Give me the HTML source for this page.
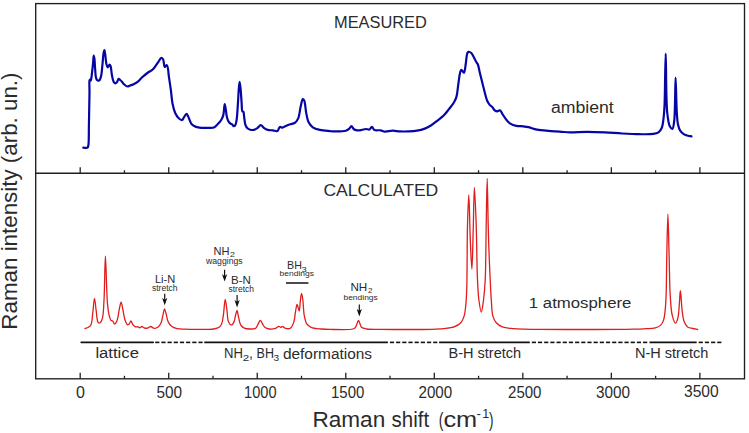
<!DOCTYPE html>
<html><head><meta charset="utf-8"><style>
html,body{margin:0;padding:0;background:#fff;}
svg{display:block;}
text{font-family:'Liberation Sans',sans-serif;fill:#2b2b2b;}
</style></head><body>
<svg width="749" height="433" viewBox="0 0 749 433">
<rect x="0" y="0" width="749" height="433" fill="#fff"/>
<!-- frame -->
<g stroke="#1e1e1e" fill="none" stroke-width="1.35">
<rect x="35.7" y="3.6" width="708.8" height="375.2"/>
<line x1="35.7" y1="173.2" x2="744.5" y2="173.2"/>
</g>
<g stroke="#222" stroke-width="1.3">
<line x1="80.20" y1="378.8" x2="80.20" y2="372.80"/>
<line x1="80.20" y1="173.2" x2="80.20" y2="167.20"/>
<line x1="124.46" y1="378.8" x2="124.46" y2="375.80"/>
<line x1="124.46" y1="173.2" x2="124.46" y2="170.20"/>
<line x1="168.73" y1="378.8" x2="168.73" y2="372.80"/>
<line x1="168.73" y1="173.2" x2="168.73" y2="167.20"/>
<line x1="212.99" y1="378.8" x2="212.99" y2="375.80"/>
<line x1="212.99" y1="173.2" x2="212.99" y2="170.20"/>
<line x1="257.25" y1="378.8" x2="257.25" y2="372.80"/>
<line x1="257.25" y1="173.2" x2="257.25" y2="167.20"/>
<line x1="301.51" y1="378.8" x2="301.51" y2="375.80"/>
<line x1="301.51" y1="173.2" x2="301.51" y2="170.20"/>
<line x1="345.78" y1="378.8" x2="345.78" y2="372.80"/>
<line x1="345.78" y1="173.2" x2="345.78" y2="167.20"/>
<line x1="390.04" y1="378.8" x2="390.04" y2="375.80"/>
<line x1="390.04" y1="173.2" x2="390.04" y2="170.20"/>
<line x1="434.30" y1="378.8" x2="434.30" y2="372.80"/>
<line x1="434.30" y1="173.2" x2="434.30" y2="167.20"/>
<line x1="478.56" y1="378.8" x2="478.56" y2="375.80"/>
<line x1="478.56" y1="173.2" x2="478.56" y2="170.20"/>
<line x1="522.83" y1="378.8" x2="522.83" y2="372.80"/>
<line x1="522.83" y1="173.2" x2="522.83" y2="167.20"/>
<line x1="567.09" y1="378.8" x2="567.09" y2="375.80"/>
<line x1="567.09" y1="173.2" x2="567.09" y2="170.20"/>
<line x1="611.35" y1="378.8" x2="611.35" y2="372.80"/>
<line x1="611.35" y1="173.2" x2="611.35" y2="167.20"/>
<line x1="655.61" y1="378.8" x2="655.61" y2="375.80"/>
<line x1="655.61" y1="173.2" x2="655.61" y2="170.20"/>
<line x1="699.88" y1="378.8" x2="699.88" y2="372.80"/>
<line x1="699.88" y1="173.2" x2="699.88" y2="167.20"/>
</g>
<!-- spectra -->
<path d="M83.30,147.70 C84.70,147.70 86.67,148.29 87.50,147.70 C88.17,147.22 88.17,146.39 88.40,145.10 C89.02,141.69 88.75,132.63 88.90,126.00 C89.06,118.81 89.19,109.75 89.30,103.50 C89.38,99.03 89.47,95.83 89.50,92.00 C89.53,88.19 89.11,82.38 89.50,80.60 C89.63,80.02 89.82,79.51 90.00,79.50 C90.18,79.49 90.41,80.61 90.60,80.60 C90.82,80.58 91.02,79.72 91.20,79.00 C91.54,77.62 91.72,75.11 92.00,72.80 C92.35,69.86 92.80,65.87 93.10,62.80 C93.35,60.18 93.40,55.52 93.70,55.50 C93.89,55.49 94.20,57.13 94.40,58.40 C94.76,60.72 94.84,65.17 95.10,68.40 C95.34,71.43 95.40,75.11 95.90,77.20 C96.19,78.42 96.44,79.45 97.00,80.00 C97.42,80.42 98.12,80.63 98.60,80.60 C99.01,80.57 99.37,80.38 99.70,80.00 C100.30,79.30 100.70,77.79 101.10,76.10 C101.78,73.21 102.08,67.95 102.50,64.00 C102.91,60.22 103.12,55.33 103.60,52.90 C103.84,51.68 104.15,50.19 104.40,50.20 C104.73,50.22 105.01,53.22 105.30,55.10 C105.69,57.62 105.84,61.78 106.40,64.00 C106.76,65.40 107.24,67.23 107.70,67.30 C107.99,67.35 108.32,66.62 108.60,66.20 C108.93,65.71 109.17,64.51 109.50,64.50 C109.84,64.49 110.28,65.36 110.60,66.20 C111.26,67.95 111.36,72.28 111.90,75.00 C112.38,77.40 112.80,80.29 113.60,81.70 C114.06,82.50 114.63,83.24 115.20,83.30 C115.74,83.36 116.40,82.76 116.90,82.20 C117.58,81.45 117.93,79.07 118.60,78.90 C119.08,78.78 119.67,79.57 120.20,80.00 C120.80,80.49 121.41,81.05 122.00,81.70 C122.68,82.45 123.16,83.53 124.00,84.30 C124.95,85.16 126.41,86.40 127.50,86.50 C128.38,86.58 129.09,85.83 130.00,85.50 C131.09,85.10 132.38,84.86 133.60,84.30 C135.01,83.65 136.53,82.78 137.90,81.70 C139.41,80.50 140.66,78.72 142.20,77.30 C143.81,75.81 145.62,74.32 147.40,73.00 C149.12,71.72 151.22,70.86 152.70,69.50 C154.08,68.23 155.03,66.64 156.10,65.20 C157.13,63.81 158.13,62.29 159.00,61.00 C159.73,59.92 160.24,58.19 161.00,58.00 C161.61,57.85 162.45,58.38 163.00,59.10 C164.02,60.45 163.82,66.56 164.80,66.90 C165.37,67.10 166.31,64.98 166.90,65.20 C168.19,65.69 168.42,73.94 169.10,78.20 C169.75,82.30 170.33,86.14 170.90,90.30 C171.50,94.72 171.77,99.94 172.60,104.00 C173.29,107.34 174.03,110.48 175.20,113.00 C176.16,115.06 177.36,117.01 178.70,118.20 C179.76,119.14 181.31,120.23 182.20,120.00 C182.99,119.79 183.26,118.32 183.90,117.40 C184.66,116.31 185.74,113.88 186.50,113.90 C187.14,113.92 187.58,115.37 188.20,116.50 C189.23,118.37 190.14,122.53 191.70,124.30 C192.90,125.66 194.43,126.32 196.00,126.90 C197.62,127.50 199.50,127.65 201.30,127.80 C203.13,127.95 204.93,127.83 206.90,127.80 C209.10,127.77 212.01,128.35 213.90,127.60 C215.53,126.95 216.59,125.36 217.80,124.10 C219.02,122.83 220.28,121.50 221.20,120.00 C222.12,118.50 222.75,117.10 223.30,115.10 C224.08,112.23 224.20,104.22 224.70,104.20 C225.05,104.19 225.47,107.68 225.80,109.60 C226.18,111.75 226.35,114.50 226.80,116.50 C227.16,118.09 227.48,119.50 228.10,120.70 C228.65,121.76 229.42,122.75 230.20,123.40 C230.85,123.94 231.71,124.02 232.30,124.50 C232.87,124.96 233.19,126.09 233.70,126.20 C234.13,126.29 234.71,125.97 235.10,125.50 C235.80,124.66 236.11,122.78 236.50,120.70 C237.18,117.06 237.42,110.61 237.80,105.40 C238.19,99.98 238.42,93.15 238.80,88.80 C239.05,85.97 239.30,81.80 239.60,81.80 C239.90,81.80 240.31,86.06 240.60,88.80 C241.01,92.64 241.26,98.62 241.60,102.70 C241.86,105.91 241.63,110.27 242.40,111.30 C242.67,111.66 243.14,111.37 243.40,111.70 C243.96,112.40 243.83,114.68 244.10,116.50 C244.46,118.89 244.63,122.68 245.40,124.80 C245.94,126.28 246.61,127.47 247.50,128.30 C248.28,129.03 249.28,129.43 250.30,129.70 C251.37,129.99 252.66,130.13 253.80,129.90 C255.00,129.66 256.18,128.94 257.30,128.20 C258.52,127.40 259.65,125.19 260.80,125.20 C261.95,125.21 263.00,127.40 264.20,128.20 C265.31,128.94 266.38,129.53 267.70,129.90 C269.23,130.33 271.24,130.19 272.90,130.40 C274.43,130.60 276.15,131.63 277.30,131.10 C278.51,130.54 278.86,127.31 279.90,126.90 C280.67,126.60 281.59,127.69 282.50,127.60 C283.58,127.49 284.68,126.44 285.90,125.90 C287.26,125.30 288.83,124.69 290.30,124.20 C291.73,123.73 293.35,123.83 294.60,123.00 C296.00,122.07 297.17,120.57 298.10,118.60 C299.48,115.68 299.82,110.04 300.70,106.50 C301.39,103.69 301.95,99.22 302.80,99.00 C303.23,98.89 303.79,99.59 304.20,100.40 C305.26,102.48 305.50,109.52 306.30,113.40 C306.96,116.61 307.27,119.68 308.50,122.10 C309.56,124.20 310.98,126.01 312.80,127.30 C314.71,128.66 317.21,129.28 319.80,129.90 C322.84,130.63 327.44,130.85 330.00,131.10 C331.54,131.25 332.11,131.38 333.70,131.40 C336.57,131.43 343.05,131.55 345.80,130.70 C347.40,130.21 348.34,129.44 349.30,128.60 C350.17,127.84 350.70,125.98 351.40,126.00 C352.14,126.02 352.65,128.28 353.60,129.00 C354.55,129.72 355.85,130.12 357.10,130.30 C358.46,130.50 360.05,130.22 361.50,130.00 C362.95,129.78 364.44,129.06 365.80,129.00 C367.02,128.95 368.29,129.84 369.30,129.50 C370.33,129.16 371.05,126.86 371.90,126.90 C372.79,126.94 373.28,129.39 374.50,130.00 C376.00,130.74 378.76,129.98 380.60,130.30 C382.18,130.57 383.24,131.45 384.90,131.60 C387.10,131.80 390.17,130.72 392.70,130.70 C395.10,130.68 397.24,131.28 399.70,131.40 C402.42,131.54 405.43,131.52 408.30,131.40 C411.19,131.28 414.20,131.19 417.00,130.70 C419.69,130.23 422.40,129.52 424.80,128.60 C427.01,127.75 428.86,126.77 430.90,125.50 C433.19,124.07 435.59,122.04 437.80,120.30 C439.91,118.64 442.07,117.14 443.90,115.30 C445.70,113.50 447.09,111.46 448.70,109.40 C450.42,107.21 452.56,104.79 453.90,102.50 C455.06,100.52 455.82,98.95 456.50,96.60 C457.41,93.45 457.62,88.98 458.20,85.10 C458.79,81.12 459.29,75.69 460.00,73.00 C460.37,71.60 460.68,70.01 461.20,69.90 C461.60,69.82 462.13,70.85 462.60,71.30 C463.06,71.75 463.60,72.73 464.00,72.60 C464.85,72.33 465.17,67.29 465.70,64.30 C466.32,60.83 466.49,54.80 467.40,53.00 C467.75,52.31 468.08,51.90 468.60,51.80 C469.29,51.67 470.50,52.29 471.30,53.00 C472.35,53.93 473.09,55.93 473.90,57.40 C474.69,58.83 475.38,60.46 476.10,61.70 C476.68,62.69 477.29,63.12 477.80,64.30 C478.66,66.30 479.16,69.97 479.90,73.00 C480.71,76.31 481.63,79.93 482.50,83.40 C483.37,86.87 484.24,90.68 485.10,93.80 C485.81,96.37 486.34,98.86 487.20,100.80 C487.87,102.31 488.61,103.56 489.50,104.60 C490.28,105.51 491.28,105.93 492.10,106.80 C493.03,107.79 493.71,109.55 494.70,110.30 C495.49,110.90 496.43,111.30 497.30,111.30 C498.17,111.30 499.12,110.06 499.90,110.30 C500.91,110.61 501.57,112.73 502.50,114.10 C503.58,115.70 504.69,117.71 506.00,119.30 C507.29,120.87 508.61,122.51 510.30,123.60 C512.05,124.73 514.27,125.45 516.40,125.90 C518.60,126.37 521.17,126.07 523.30,126.30 C525.16,126.50 526.78,126.68 528.50,127.10 C530.28,127.54 531.90,128.40 533.80,128.90 C535.93,129.46 538.16,129.85 540.70,130.20 C543.80,130.63 547.63,130.83 551.10,131.10 C554.57,131.37 558.21,131.59 561.50,131.80 C564.48,131.99 566.66,132.25 570.00,132.30 C574.77,132.37 581.61,131.80 587.40,131.80 C593.17,131.80 598.93,132.02 604.70,132.30 C610.49,132.58 616.31,133.18 622.10,133.50 C627.87,133.82 633.95,134.15 639.40,134.20 C644.29,134.25 649.81,134.46 653.30,133.90 C655.48,133.55 657.10,133.29 658.50,132.30 C659.89,131.32 660.87,129.93 661.70,128.00 C662.96,125.07 663.32,119.87 663.80,115.80 C664.28,111.77 664.36,109.11 664.60,103.70 C665.08,92.71 665.29,53.70 665.70,53.70 C666.15,53.70 665.85,99.63 667.20,112.40 C667.86,118.67 668.38,123.61 669.80,126.30 C670.52,127.67 671.72,129.10 672.40,128.90 C673.41,128.61 673.77,124.17 674.20,121.00 C674.83,116.37 674.78,110.06 675.00,103.70 C675.27,95.89 675.33,77.60 675.60,77.60 C675.91,77.60 676.23,103.80 676.80,112.40 C677.14,117.48 677.25,121.19 678.00,124.50 C678.55,126.92 679.15,128.94 680.20,130.60 C681.12,132.05 682.37,133.23 683.70,134.10 C684.98,134.94 686.62,135.43 688.00,135.80 C689.21,136.12 690.33,136.13 691.50,136.30" fill="none" stroke="#0606a4" stroke-width="2.2" stroke-linejoin="round" stroke-linecap="round"/>
<path d="M84.90,328.50 C86.07,328.10 87.38,327.94 88.40,327.30 C89.41,326.67 90.32,326.04 91.00,324.70 C92.23,322.25 92.24,316.81 92.80,312.60 C93.41,308.04 93.91,298.30 94.50,298.30 C95.05,298.30 95.60,306.74 96.20,310.80 C96.77,314.67 96.85,320.49 98.00,322.10 C98.47,322.76 99.15,323.16 99.70,323.00 C100.60,322.75 101.63,320.67 102.30,318.60 C103.57,314.69 103.54,307.80 104.00,300.40 C104.72,288.87 104.83,256.10 105.40,256.10 C105.99,256.10 106.48,293.25 107.50,303.90 C108.02,309.28 108.51,313.00 109.30,316.00 C109.79,317.86 110.21,319.67 111.00,320.40 C111.48,320.84 112.19,320.51 112.70,320.90 C113.41,321.45 113.82,323.87 114.50,323.90 C115.26,323.94 116.39,322.01 117.10,320.40 C118.25,317.79 118.55,312.39 119.30,309.10 C119.89,306.51 120.52,302.20 121.10,302.20 C121.68,302.20 122.23,306.56 122.80,309.10 C123.50,312.21 123.93,316.68 124.90,319.50 C125.62,321.59 126.55,324.37 127.50,324.70 C128.04,324.89 128.69,324.36 129.20,323.90 C129.90,323.27 130.43,320.87 131.00,320.90 C131.60,320.93 131.96,323.40 132.70,324.40 C133.41,325.35 134.36,326.43 135.30,326.80 C136.11,327.12 137.15,326.60 137.90,326.80 C138.55,326.98 138.99,327.79 139.60,327.80 C140.31,327.81 141.16,326.49 141.90,326.50 C142.62,326.51 143.18,327.51 144.00,327.80 C144.97,328.14 146.29,328.39 147.40,328.20 C148.59,328.00 149.84,326.43 150.90,326.50 C151.85,326.56 152.47,328.00 153.50,328.20 C154.73,328.44 156.68,328.09 157.90,327.30 C159.22,326.44 160.18,324.78 161.00,323.00 C162.06,320.69 162.46,316.87 163.10,314.30 C163.61,312.26 163.99,308.81 164.50,308.80 C165.02,308.79 165.62,312.30 166.20,314.30 C166.88,316.67 167.22,319.96 168.30,322.10 C169.20,323.89 170.35,325.42 171.80,326.50 C173.25,327.58 175.04,328.14 177.00,328.60 C179.34,329.15 182.18,329.07 185.00,329.20 C188.15,329.35 191.59,329.38 195.00,329.40 C198.58,329.42 202.64,329.38 206.00,329.30 C208.85,329.23 211.57,329.42 213.90,329.00 C215.84,328.65 217.77,328.26 219.10,327.30 C220.29,326.45 221.03,325.32 221.70,323.80 C222.66,321.63 222.88,318.43 223.40,315.10 C224.09,310.67 224.55,299.52 225.20,299.50 C225.73,299.49 226.35,306.29 226.90,309.90 C227.49,313.80 227.41,319.48 228.60,322.10 C229.29,323.62 230.41,325.21 231.30,325.20 C232.18,325.19 233.22,323.44 233.90,322.10 C234.80,320.31 235.04,317.21 235.60,315.10 C236.07,313.34 236.55,310.29 237.00,310.30 C237.52,310.32 237.92,314.58 238.50,316.90 C239.16,319.52 239.56,323.24 240.80,325.20 C241.71,326.63 242.86,327.56 244.30,328.20 C245.95,328.94 248.36,329.02 250.30,329.00 C252.12,328.98 254.28,329.09 255.60,328.20 C256.89,327.33 257.36,325.18 258.20,323.80 C258.96,322.56 259.68,320.29 260.40,320.30 C261.11,320.31 261.74,322.62 262.50,323.80 C263.30,325.05 263.94,326.73 265.10,327.60 C266.25,328.46 267.87,328.80 269.40,329.00 C271.06,329.21 273.07,329.16 274.70,328.70 C276.26,328.26 277.89,326.40 279.00,326.40 C279.70,326.40 280.10,327.28 280.70,327.30 C281.36,327.33 282.11,326.31 282.80,326.40 C283.58,326.50 284.11,327.86 285.10,328.20 C286.43,328.66 288.90,329.01 290.30,328.20 C291.92,327.26 292.95,324.49 293.80,322.10 C294.84,319.17 294.89,314.84 295.50,311.70 C296.01,309.07 296.47,304.53 297.10,304.50 C297.71,304.47 298.68,311.05 299.20,311.00 C299.82,310.94 299.89,304.36 300.30,301.30 C300.67,298.53 301.05,293.41 301.50,293.40 C301.90,293.39 302.42,296.98 302.80,299.50 C303.40,303.49 303.35,310.69 304.20,315.10 C304.85,318.46 305.39,321.69 306.80,323.80 C307.90,325.45 309.21,326.45 311.10,327.30 C313.70,328.47 318.20,328.65 321.50,329.00 C324.47,329.31 326.48,329.35 330.00,329.40 C335.76,329.48 349.04,330.16 352.80,329.00 C354.19,328.57 354.71,328.11 355.40,327.30 C356.20,326.36 356.56,324.71 357.10,323.50 C357.59,322.39 358.05,320.30 358.50,320.30 C358.91,320.30 359.27,321.99 359.70,323.00 C360.25,324.26 360.42,326.30 361.50,327.30 C362.67,328.38 364.53,328.62 366.70,329.00 C370.08,329.59 375.12,329.31 380.00,329.40 C385.99,329.51 393.33,329.48 400.00,329.50 C406.67,329.52 414.18,329.55 420.00,329.50 C424.51,329.46 428.05,329.45 432.00,329.30 C435.85,329.15 439.67,329.01 443.40,328.60 C447.03,328.20 451.04,328.03 454.10,326.90 C456.70,325.94 459.13,324.63 460.80,322.80 C462.43,321.01 463.28,318.73 464.10,316.10 C465.15,312.75 465.46,308.48 465.90,304.10 C466.43,298.85 466.56,294.28 466.80,286.70 C467.25,272.44 467.04,241.93 467.50,225.00 C467.82,213.15 468.38,194.80 468.80,194.80 C469.32,194.80 469.71,226.58 470.30,240.00 C470.77,250.80 471.44,269.20 471.90,269.20 C472.43,269.19 472.79,243.34 473.20,230.00 C473.63,216.10 473.88,187.41 474.40,187.40 C474.89,187.40 475.71,211.28 476.20,225.00 C476.79,241.59 476.85,266.21 477.50,280.00 C477.89,288.32 478.12,294.19 478.90,300.00 C479.51,304.56 480.53,312.11 481.30,312.10 C482.07,312.09 482.89,304.55 483.50,300.00 C484.27,294.18 484.77,288.33 485.20,280.00 C485.91,266.22 485.85,242.58 486.20,225.00 C486.52,208.80 486.87,178.30 487.20,178.30 C487.53,178.30 487.87,211.99 488.20,225.00 C488.44,234.35 488.60,240.57 488.90,249.10 C489.24,258.76 489.75,270.82 490.20,280.00 C490.56,287.39 490.81,293.70 491.30,300.00 C491.74,305.66 491.69,311.98 492.90,316.10 C493.72,318.91 494.71,320.99 496.30,322.80 C497.86,324.58 499.89,325.94 502.30,326.90 C505.25,328.07 509.32,328.22 513.00,328.60 C516.87,329.00 520.78,329.06 525.00,329.20 C529.72,329.36 533.80,329.39 540.00,329.45 C550.13,329.54 566.67,329.50 580.00,329.50 C593.33,329.50 610.32,329.55 620.00,329.45 C625.52,329.39 628.91,329.32 633.00,329.20 C636.66,329.09 639.81,329.02 643.40,328.80 C647.26,328.57 652.25,328.68 655.40,327.80 C657.63,327.18 659.44,326.39 660.80,325.10 C662.09,323.88 662.81,322.30 663.50,320.40 C664.41,317.89 664.69,314.64 665.10,311.10 C665.64,306.48 665.84,301.57 666.10,295.00 C666.51,284.65 666.50,268.41 666.80,255.00 C667.10,241.44 667.52,214.10 667.90,214.10 C668.28,214.10 668.71,241.44 669.10,255.00 C669.48,268.41 669.50,283.95 670.20,295.00 C670.70,302.85 670.92,309.99 672.20,315.10 C673.04,318.45 674.47,323.08 675.50,323.10 C676.35,323.11 677.28,320.11 677.90,317.80 C678.93,313.95 679.08,306.56 679.50,301.70 C679.85,297.69 680.00,290.71 680.30,290.70 C680.49,290.69 680.69,293.11 680.90,295.00 C681.30,298.65 681.56,306.29 682.20,311.10 C682.73,315.04 683.05,318.98 684.20,321.80 C685.06,323.92 686.09,325.78 687.60,326.90 C689.03,327.96 691.18,328.06 692.90,328.50 C694.50,328.91 696.03,329.17 697.60,329.50" fill="none" stroke="#e01c1c" stroke-width="1.3" stroke-linejoin="round" stroke-linecap="round"/>
<!-- texts -->
<text x="334.02" y="27.75" font-size="16.7" textLength="92.74" lengthAdjust="spacingAndGlyphs">MEASURED</text>
<text x="323.45" y="196.0" font-size="17.0" textLength="114.84" lengthAdjust="spacingAndGlyphs">CALCULATED</text>
<text x="550.94" y="113.0" font-size="15.8" textLength="62.84" lengthAdjust="spacingAndGlyphs">ambient</text>
<text x="528.86" y="307.5" font-size="15.3" textLength="102.51" lengthAdjust="spacingAndGlyphs">1 atmosphere</text>
<text x="75.98" y="398.0" font-size="15.6" textLength="8.95" lengthAdjust="spacingAndGlyphs">0</text>
<text x="156.52" y="398.0" font-size="15.6" textLength="25.67" lengthAdjust="spacingAndGlyphs">500</text>
<text x="244.08" y="398.0" font-size="15.6" textLength="32.44" lengthAdjust="spacingAndGlyphs">1000</text>
<text x="331.02" y="398.0" font-size="15.6" textLength="33.25" lengthAdjust="spacingAndGlyphs">1500</text>
<text x="418.51" y="398.0" font-size="15.6" textLength="33.71" lengthAdjust="spacingAndGlyphs">2000</text>
<text x="508.02" y="398.0" font-size="15.6" textLength="33.49" lengthAdjust="spacingAndGlyphs">2500</text>
<text x="596.01" y="398.0" font-size="15.6" textLength="34.09" lengthAdjust="spacingAndGlyphs">3000</text>
<text x="684.00" y="397.0" font-size="15.6" textLength="34.70" lengthAdjust="spacingAndGlyphs">3500</text>
<text x="312.44" y="427.0" font-size="22.0" textLength="72.81" lengthAdjust="spacingAndGlyphs">Raman</text>
<text x="391.52" y="427.0" font-size="22.0" textLength="37.57" lengthAdjust="spacingAndGlyphs">shift</text>
<text x="438.80" y="426.5" font-size="21.0" textLength="4.67" lengthAdjust="spacingAndGlyphs">(</text>
<text x="443.45" y="427.0" font-size="22.0" textLength="33.79" lengthAdjust="spacingAndGlyphs">cm</text>
<text x="489.12" y="426.5" font-size="21.0" textLength="4.48" lengthAdjust="spacingAndGlyphs">)</text>
<text x="476.6" y="418.4" font-size="12.5" textLength="4.4" lengthAdjust="spacingAndGlyphs">-</text>
<text x="482.2" y="418.4" font-size="12.5">1</text>
<text transform="translate(17.3,329.63) rotate(-90)" x="0" y="0" font-size="22.0" textLength="257.16" lengthAdjust="spacingAndGlyphs">Raman intensity (arb. un.)</text>
<text x="95.42" y="358.0" font-size="14.0" textLength="43.52" lengthAdjust="spacingAndGlyphs" fill="#3a3a3a">lattice</text>
<text x="224.02" y="358.0" font-size="14.0" textLength="18.92" lengthAdjust="spacingAndGlyphs" fill="#3a3a3a">NH</text>
<text x="242.76" y="360.5" font-size="9.5" textLength="6.45" lengthAdjust="spacingAndGlyphs" fill="#3a3a3a">2</text>
<text x="249.00" y="358.0" font-size="14.0" textLength="3.89" lengthAdjust="spacingAndGlyphs" fill="#3a3a3a">,</text>
<text x="256.58" y="358.0" font-size="14.0" textLength="17.36" lengthAdjust="spacingAndGlyphs" fill="#3a3a3a">BH</text>
<text x="273.50" y="361.0" font-size="9.5" textLength="5.62" lengthAdjust="spacingAndGlyphs" fill="#3a3a3a">3</text>
<text x="282.96" y="358.5" font-size="14.0" textLength="89.04" lengthAdjust="spacingAndGlyphs" fill="#3a3a3a">deformations</text>
<text x="448.44" y="358.0" font-size="14.0" textLength="72.71" lengthAdjust="spacingAndGlyphs" fill="#3a3a3a">B-H stretch</text>
<text x="634.99" y="358.0" font-size="14.0" textLength="73.43" lengthAdjust="spacingAndGlyphs" fill="#3a3a3a">N-H stretch</text>
<text x="154.98" y="283.0" font-size="11.5" textLength="20.27" lengthAdjust="spacingAndGlyphs" fill="#161616">Li-N</text>
<text x="151.97" y="291.0" font-size="8.5" textLength="25.56" lengthAdjust="spacingAndGlyphs" fill="#161616">stretch</text>
<text x="213.41" y="254.5" font-size="11.3" textLength="16.00" lengthAdjust="spacingAndGlyphs" fill="#161616">NH</text>
<text x="230.00" y="256.5" font-size="8.0" textLength="4.92" lengthAdjust="spacingAndGlyphs" fill="#161616">2</text>
<text x="206.00" y="263.5" font-size="8.3" textLength="36.68" lengthAdjust="spacingAndGlyphs" fill="#161616">waggings</text>
<text x="231.00" y="283.5" font-size="11.5" textLength="19.81" lengthAdjust="spacingAndGlyphs" fill="#161616">B-N</text>
<text x="228.50" y="292.0" font-size="8.5" textLength="25.52" lengthAdjust="spacingAndGlyphs" fill="#161616">stretch</text>
<text x="287.06" y="269.0" font-size="11.3" textLength="14.83" lengthAdjust="spacingAndGlyphs" fill="#161616">BH</text>
<text x="301.63" y="271.5" font-size="8.0" textLength="5.24" lengthAdjust="spacingAndGlyphs" fill="#161616">3</text>
<text x="279.52" y="276.0" font-size="7.3" textLength="34.54" lengthAdjust="spacingAndGlyphs" fill="#161616">bendings</text>
<text x="350.45" y="291.0" font-size="11.5" textLength="16.86" lengthAdjust="spacingAndGlyphs" fill="#161616">NH</text>
<text x="368.00" y="292.5" font-size="8.0" textLength="4.45" lengthAdjust="spacingAndGlyphs" fill="#161616">2</text>
<text x="343.48" y="300.0" font-size="7.3" textLength="34.33" lengthAdjust="spacingAndGlyphs" fill="#161616">bendings</text>
<!-- region bars -->
<g stroke="#111" stroke-width="1.6" fill="none" stroke-linecap="butt">
<line x1="81.2" y1="342.4" x2="153.2" y2="342.4" stroke-linecap="round"/>
<line x1="155.18" y1="342.4" x2="159.38" y2="342.4"/>
<line x1="161.36" y1="342.4" x2="165.56" y2="342.4"/>
<line x1="167.54" y1="342.4" x2="171.74" y2="342.4"/>
<line x1="173.72" y1="342.4" x2="177.92" y2="342.4"/>
<line x1="179.90" y1="342.4" x2="184.10" y2="342.4"/>
<line x1="186.08" y1="342.4" x2="190.28" y2="342.4"/>
<line x1="192.26" y1="342.4" x2="196.46" y2="342.4"/>
<line x1="198.44" y1="342.4" x2="202.64" y2="342.4"/>
<line x1="204.3" y1="342.4" x2="387.9" y2="342.4"/>
<line x1="389.88" y1="342.4" x2="394.08" y2="342.4"/>
<line x1="396.06" y1="342.4" x2="400.26" y2="342.4"/>
<line x1="402.24" y1="342.4" x2="406.44" y2="342.4"/>
<line x1="408.42" y1="342.4" x2="412.62" y2="342.4"/>
<line x1="414.60" y1="342.4" x2="418.80" y2="342.4"/>
<line x1="420.78" y1="342.4" x2="424.98" y2="342.4"/>
<line x1="426.96" y1="342.4" x2="431.16" y2="342.4"/>
<line x1="433.14" y1="342.4" x2="437.34" y2="342.4"/>
<line x1="439.1" y1="342.4" x2="529.8" y2="342.4"/>
<line x1="531.78" y1="342.4" x2="535.98" y2="342.4"/>
<line x1="537.96" y1="342.4" x2="542.16" y2="342.4"/>
<line x1="544.14" y1="342.4" x2="548.34" y2="342.4"/>
<line x1="550.32" y1="342.4" x2="554.52" y2="342.4"/>
<line x1="556.50" y1="342.4" x2="560.70" y2="342.4"/>
<line x1="562.68" y1="342.4" x2="566.88" y2="342.4"/>
<line x1="568.86" y1="342.4" x2="573.06" y2="342.4"/>
<line x1="575.04" y1="342.4" x2="579.24" y2="342.4"/>
<line x1="581.22" y1="342.4" x2="585.42" y2="342.4"/>
<line x1="587.40" y1="342.4" x2="591.60" y2="342.4"/>
<line x1="593.58" y1="342.4" x2="597.78" y2="342.4"/>
<line x1="599.76" y1="342.4" x2="603.96" y2="342.4"/>
<line x1="605.94" y1="342.4" x2="610.14" y2="342.4"/>
<line x1="612.12" y1="342.4" x2="616.32" y2="342.4"/>
<line x1="618.30" y1="342.4" x2="622.50" y2="342.4"/>
<line x1="624.48" y1="342.4" x2="628.68" y2="342.4"/>
<line x1="630.66" y1="342.4" x2="634.86" y2="342.4"/>
<line x1="636.84" y1="342.4" x2="641.04" y2="342.4"/>
<line x1="643.02" y1="342.4" x2="647.22" y2="342.4"/>
<line x1="649.5" y1="342.4" x2="696.7" y2="342.4"/>
<line x1="698.68" y1="342.4" x2="702.88" y2="342.4"/>
<line x1="704.86" y1="342.4" x2="709.06" y2="342.4"/>
<line x1="711.04" y1="342.4" x2="715.24" y2="342.4"/>
<line x1="717.22" y1="342.4" x2="721.42" y2="342.4"/>
<line x1="286" y1="283" x2="308.4" y2="283" stroke-width="1.5"/>
</g>
<g stroke="#111" stroke-width="1.2" fill="#111">
<line x1="164.7" y1="293.7" x2="164.7" y2="302.30"/><path d="M162.10,297.90 L164.70,305.30 L167.30,297.90 L164.70,299.70 Z" stroke="none"/>
<line x1="224.6" y1="269.7" x2="224.6" y2="278.60"/><path d="M222.00,274.20 L224.60,281.60 L227.20,274.20 L224.60,276.00 Z" stroke="none"/>
<line x1="237.1" y1="295.1" x2="237.1" y2="304.40"/><path d="M234.50,300.00 L237.10,307.40 L239.70,300.00 L237.10,301.80 Z" stroke="none"/>
<line x1="359.3" y1="304.4" x2="359.3" y2="313.40"/><path d="M356.70,309.00 L359.30,316.40 L361.90,309.00 L359.30,310.80 Z" stroke="none"/>
</g>
</svg>
</body></html>
